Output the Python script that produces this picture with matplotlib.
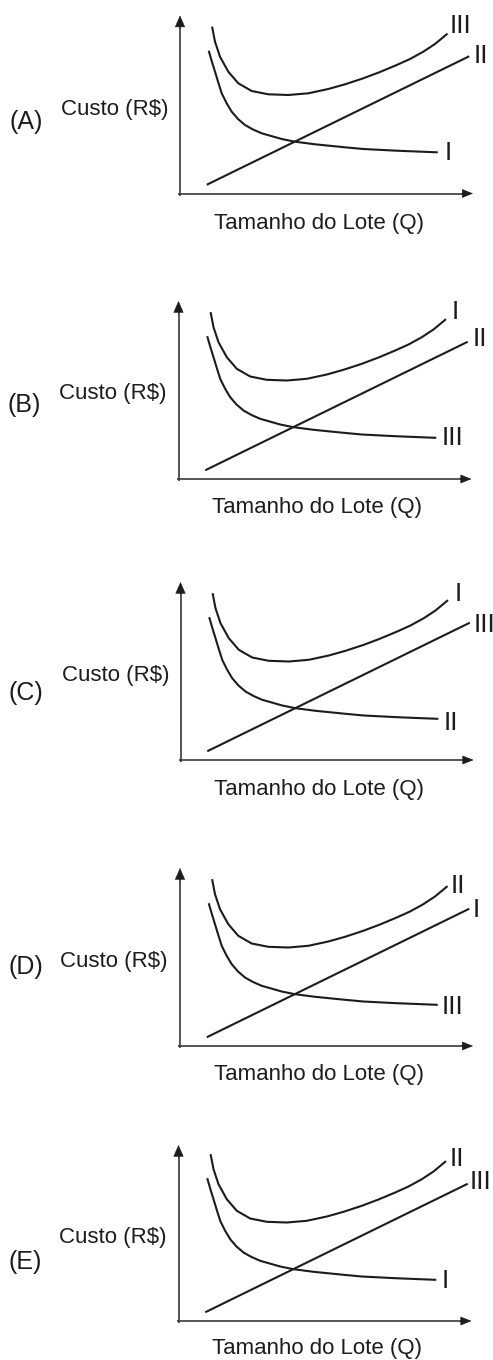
import matplotlib
matplotlib.use("Agg")
import matplotlib.pyplot as plt
from matplotlib import font_manager

# ---------------- data (arbitrary cost / lot-size units) ----------------
# total cost curve (U shape)
q_total = [32.3, 35.0, 40.0, 48.3, 58.3, 71.7, 88.3, 108.3, 128.3, 148.3,
           165.0, 183.3, 200.0, 216.7, 230.0, 243.3, 255.0, 266.7]
c_total = [165.8, 151.8, 136.8, 121.8, 110.2, 102.5, 99.2, 98.5, 100.2, 104.5,
           109.2, 115.2, 121.5, 128.5, 134.5, 141.8, 149.5, 159.2]
# ordering cost curve (decreasing)
q_order = [29.0, 32.0, 35.0, 38.3, 41.7, 46.5, 51.7, 58.0, 65.0, 73.0, 81.7,
           101.7, 115.0, 135.0, 165.0, 183.3, 216.7, 256.7]
c_order = [141.8, 131.5, 121.8, 111.0, 100.2, 90.5, 81.8, 74.5, 68.5, 64.0, 60.2,
           54.5, 51.8, 49.2, 46.2, 44.5, 42.8, 41.2]
# holding cost (straight line)
q_hold = [27.7, 288.3]
c_hold = [9.2, 136.8]

panel_names = ["(A)", "(B)", "(C)", "(D)", "(E)"]
labels_total = ["III", "I", "I", "II", "II"]
labels_hold = ["II", "II", "III", "I", "III"]
labels_order = ["I", "III", "II", "III", "I"]
y_label = "Custo (R$)"
x_label = "Tamanho do Lote (Q)"

# ---------------- layout (pixels) ----------------
W, H = 493, 1360
origins = [(180, 193.5), (178.5, 479), (180.5, 760), (180, 1046), (178.5, 1321)]
axis_len = [(293, 178), (293, 178), (293, 178), (293, 178), (293, 176)]
letter_pos = [(-154, 71), (-154, 74), (-155, 67), (-154.5, 79), (-153, 59)]
ylab_pos = [(-65.5, 83.5), (-66, 86), (-64.7, 85), (-65.8, 85), (-66, 84)]
xlab_pos = [(139, -29.5), (138.5, -28), (139, -29), (139, -28.5), (138.5, -27.5)]
# label centres
pos_total = [(281, 169.7), (276.8, 169), (277.8, 168.3), (278.3, 162.7), (278.2, 164.3)]
pos_hold = [(301, 139.5), (301, 142), (303.5, 137.5), (296.5, 138.5), (302, 141)]
pos_order = [(268.5, 42.5), (274, 43.5), (270.8, 39.5), (272.5, 41.5), (266.5, 42.5)]

tfam, tsize, rsize = "Liberation Sans", 16, 19
lfam = "Liberation Sans"
r_half_cap = 0.358 * rsize * 100 / 72  # half cap height in px

fig = plt.figure(figsize=(W / 100, H / 100), dpi=100)
fig.patch.set_facecolor("white")

ink = "#1c1c1c"
axc = "#3a3a3a"

for i in range(5):
    ox, oy = origins[i]
    bottom_px = -45
    top_px = 200
    ax = fig.add_axes([0, (H - oy + bottom_px) / H, 1, (top_px - bottom_px) / H])
    ax.set_xlim(-ox, W - ox)
    ax.set_ylim(bottom_px, top_px)
    ax.axis("off")

    xl, yl = axis_len[i]
    # axes with arrowheads
    ax.plot([-2, xl - 8], [0, 0], color=axc, lw=1.2, solid_capstyle="butt")
    ax.plot([0, 0], [-2, yl - 9], color=axc, lw=1.2, solid_capstyle="butt")
    ax.annotate("", xy=(xl, 0), xytext=(xl - 12, 0),
                arrowprops=dict(arrowstyle="-|>,head_length=0.72,head_width=0.29",
                                mutation_scale=10, color=ink, lw=0.4,
                                shrinkA=0, shrinkB=0))
    ax.annotate("", xy=(0, yl), xytext=(0, yl - 13),
                arrowprops=dict(arrowstyle="-|>,head_length=0.77,head_width=0.34",
                                mutation_scale=10, color=ink, lw=0.4,
                                shrinkA=0, shrinkB=0))

    ax.plot(q_total, c_total, color=ink, lw=1.5, solid_joinstyle="round")
    ax.plot(q_order, c_order, color=ink, lw=1.5, solid_joinstyle="round")
    ax.plot(q_hold, c_hold, color=ink, lw=1.5)

    for (px, py), lab in ((pos_total[i], labels_total[i]),
                          (pos_hold[i], labels_hold[i]),
                          (pos_order[i], labels_order[i])):
        ax.text(px, py - r_half_cap, lab, ha="center", va="baseline",
                fontsize=rsize, family=tfam, color=ink)

    ax.text(*letter_pos[i], panel_names[i], ha="center", va="center",
            fontsize=18, family=lfam, color=ink)
    ax.text(*ylab_pos[i], y_label, ha="center", va="center",
            fontsize=tsize, family=tfam, color=ink)
    ax.text(*xlab_pos[i], x_label, ha="center", va="center",
            fontsize=tsize, family=tfam, color=ink)

fig.savefig("out.png", dpi=100, facecolor="white")
